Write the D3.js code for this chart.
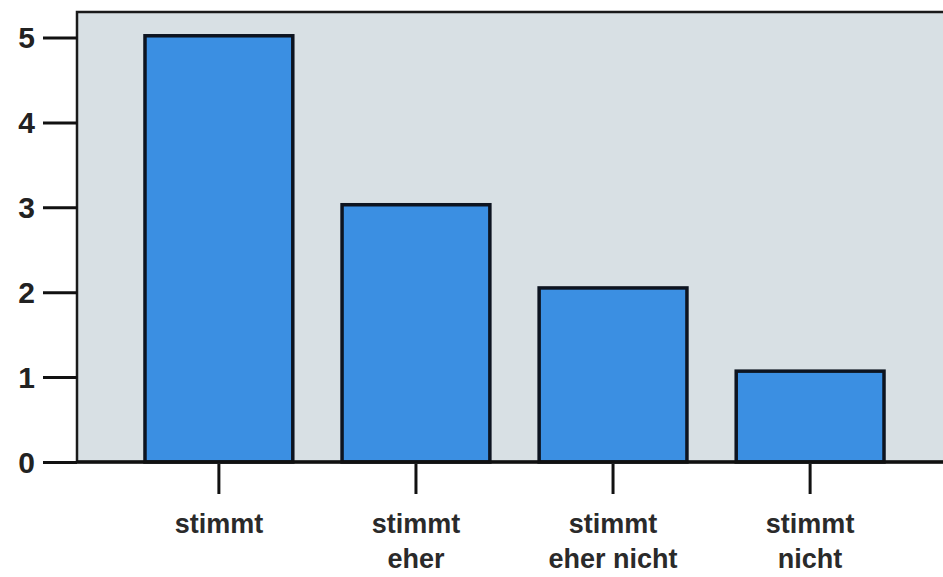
<!DOCTYPE html>
<html>
<head>
<meta charset="utf-8">
<script src="https://cdn.jsdelivr.net/npm/d3@7"></script>
<style>
  body { margin: 0; background: #fff; }
  svg { display: block; }
  .axis text { font-family: "Liberation Sans", Arial, sans-serif; fill: #222; }
</style>
</head>
<body>
<div id="chart"></div>
<script>
// answer categories (label lines) and counts
var categories = ["stimmt", "stimmt eher", "stimmt eher nicht", "stimmt nicht"];
var labelLines = [["stimmt"], ["stimmt", "eher"], ["stimmt", "eher nicht"], ["stimmt", "nicht"]];
var counts = [5.02, 3.03, 2.05, 1.07];
var yTicks = [0, 1, 2, 3, 4, 5];

var W = 943, H = 577;
var margin = { top: 12, right: -9, bottom: 115, left: 77 };
var width = W - margin.left - margin.right,
    height = H - margin.top - margin.bottom;

var svg = d3.select("#chart").append("svg")
  .attr("width", W)
  .attr("height", H);

var g = svg.append("g")
  .attr("transform", "translate(" + margin.left + "," + margin.top + ")");

var x = d3.scaleBand()
  .domain(categories)
  .range([0, width])
  .paddingInner(0.25)
  .paddingOuter(0.345);

var y = d3.scaleLinear()
  .domain([0, 5.3])
  .range([height, 0]);

// plot background
g.append("rect")
  .attr("x", 0).attr("y", 0)
  .attr("width", width).attr("height", height)
  .attr("fill", "#d8e0e4")
  .attr("stroke", "#1a1a1a")
  .attr("stroke-width", 2.5);

// bars
g.selectAll(".bar")
  .data(counts)
  .enter()
  .append("rect")
    .attr("class", "bar")
    .attr("x", function(d, i) { return x(categories[i]); })
    .attr("y", function(d) { return y(d); })
    .attr("width", x.bandwidth())
    .attr("height", function(d) { return y(0) - y(d); })
    .attr("fill", "#3b8fe2")
    .attr("stroke", "#0d1420")
    .attr("stroke-width", 3.5);

// y axis
var yAxis = g.append("g")
  .attr("class", "axis y")
  .call(d3.axisLeft(y).tickValues(yTicks).tickFormat(d3.format("d"))
    .tickSize(34).tickPadding(8).tickSizeOuter(0));
yAxis.select(".domain").remove();
yAxis.selectAll("line").attr("stroke", "#111").attr("stroke-width", 3);
yAxis.selectAll("text")
  .style("font-size", "30px")
  .style("font-weight", "bold")
  .attr("dy", "0.35em");

// x axis line
g.append("line")
  .attr("x1", 0).attr("x2", width)
  .attr("y1", y(0)).attr("y2", y(0))
  .attr("stroke", "#111")
  .attr("stroke-width", 3.5);

// x axis ticks
var xAxis = g.append("g")
  .attr("class", "axis x")
  .attr("transform", "translate(0," + (height + 2) + ")")
  .call(d3.axisBottom(x).tickSize(30).tickSizeOuter(0).tickFormat(""));
xAxis.select(".domain").remove();
xAxis.selectAll("line").attr("stroke", "#111").attr("stroke-width", 3);

// x labels (two lines)
g.selectAll(".xlabel")
  .data(labelLines)
  .enter()
  .append("text")
    .attr("class", "xlabel")
    .attr("text-anchor", "middle")
    .style("font-family", "'Liberation Sans', Arial, sans-serif")
    .style("font-size", "27px")
    .style("font-weight", "bold")
    .style("fill", "#2a2a2a")
    .attr("transform", function(d, i) {
      return "translate(" + (x(categories[i]) + x.bandwidth() / 2) + "," + (height + 71) + ")";
    })
    .selectAll("tspan")
    .data(function(d) { return d; })
    .enter()
    .append("tspan")
      .attr("x", 0)
      .attr("dy", function(d, j) { return j === 0 ? 0 : 35; })
      .text(function(d) { return d; });
</script>
</body>
</html>
